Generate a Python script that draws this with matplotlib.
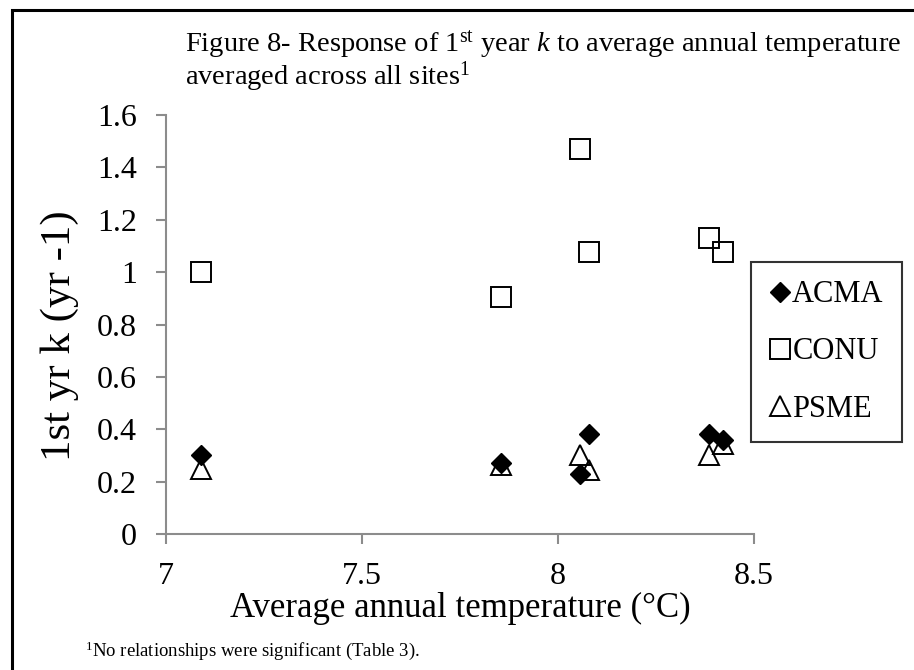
import matplotlib
matplotlib.use("Agg")
import matplotlib.pyplot as plt
from matplotlib.patches import Rectangle

plt.rcParams['font.family'] = ['Liberation Serif', 'DejaVu Serif']
plt.rcParams['mathtext.fontset'] = 'custom'
plt.rcParams['mathtext.rm'] = 'Liberation Serif'
plt.rcParams['mathtext.it'] = 'Liberation Serif:italic'

# ---- data ----
temps = [7.09, 7.855, 8.055, 8.078, 8.386, 8.42]
acma = [0.30, 0.27, 0.23, 0.38, 0.38, 0.36]
conu = [1.00, 0.905, 1.47, 1.075, 1.13, 1.075]
psme = [0.25, 0.265, 0.30, 0.245, 0.30, 0.345]
series_names = ["ACMA", "CONU", "PSME"]
xticks = [7, 7.5, 8, 8.5]
xticklabels = ["7", "7.5", "8", "8.5"]
yticks = [0, 0.2, 0.4, 0.6, 0.8, 1.0, 1.2, 1.4, 1.6]
yticklabels = ["0", "0.2", "0.4", "0.6", "0.8", "1", "1.2", "1.4", "1.6"]

W, H = 914, 670
fig = plt.figure(figsize=(W / 100, H / 100), dpi=100)

def fx(px):
    return px / W

def fy(py):
    return 1 - py / H

ax = fig.add_axes([fx(166), fy(534), fx(754) - fx(166), fy(115) - fy(534)])

gray = '#8c8c8c'
ax.plot(temps, acma, linestyle='none', marker='D', ms=10.5, mfc='black', mec='black',
        label=series_names[0], zorder=3)
ax.plot(temps, conu, linestyle='none', marker='s', ms=14, mfc='none', mec='black',
        mew=1.4, label=series_names[1], zorder=4)
ax.plot(temps, psme, linestyle='none', marker='^', ms=14, mfc='none', mec='black',
        mew=1.4, label=series_names[2], zorder=5)

ax.set_xlim(7, 8.5)
ax.set_ylim(0, 1.6)
ax.set_xticks(xticks)
ax.set_xticklabels(xticklabels)
ax.set_yticks(yticks)
ax.set_yticklabels(yticklabels)
for s in ['top', 'right']:
    ax.spines[s].set_visible(False)
for s in ['left', 'bottom']:
    ax.spines[s].set_color(gray)
    ax.spines[s].set_linewidth(1.5)
ax.tick_params(axis='both', direction='out', length=7, width=1.5, color=gray,
               labelsize=23, labelcolor='black')
ax.tick_params(axis='y', pad=14)
ax.tick_params(axis='x', pad=13)

fig.text(fx(460), fy(608), "Average annual temperature (\u00b0C)", fontsize=25,
         ha='center', va='center')
fig.text(fx(60), fy(336), "1st yr k (yr -1)", fontsize=31, rotation=90,
         ha='center', va='center')

leg = ax.legend(loc='upper left', bbox_to_anchor=(fx(751), fy(262)),
                bbox_transform=fig.transFigure, borderaxespad=0,
                fontsize=22, frameon=True, fancybox=False, handlelength=0.7,
                handletextpad=0.05, labelspacing=0.92, borderpad=0.6, numpoints=1)
leg.get_frame().set_edgecolor('black')
leg.get_frame().set_linewidth(1.5)
leg.set_zorder(10)

fig.text(fx(185), fy(51), "Figure 8- Response of 1$^{\\mathrm{st}}$ year $k$ to average annual temperature",
         fontsize=20.5, ha='left', va='baseline')
fig.text(fx(185), fy(85), "averaged across all sites$^{\\mathrm{1}}$",
         fontsize=20.5, ha='left', va='baseline')
fig.text(fx(85), fy(656), "${}^{\\mathrm{1}}$No relationships were significant (Table 3).",
         fontsize=13.5, ha='left', va='baseline')

fig.patches.append(Rectangle((fx(12), -0.2), 1.2, fy(10) + 0.2, transform=fig.transFigure,
                             fill=False, edgecolor='black', linewidth=2.2))

fig.savefig("out.png", dpi=100)
